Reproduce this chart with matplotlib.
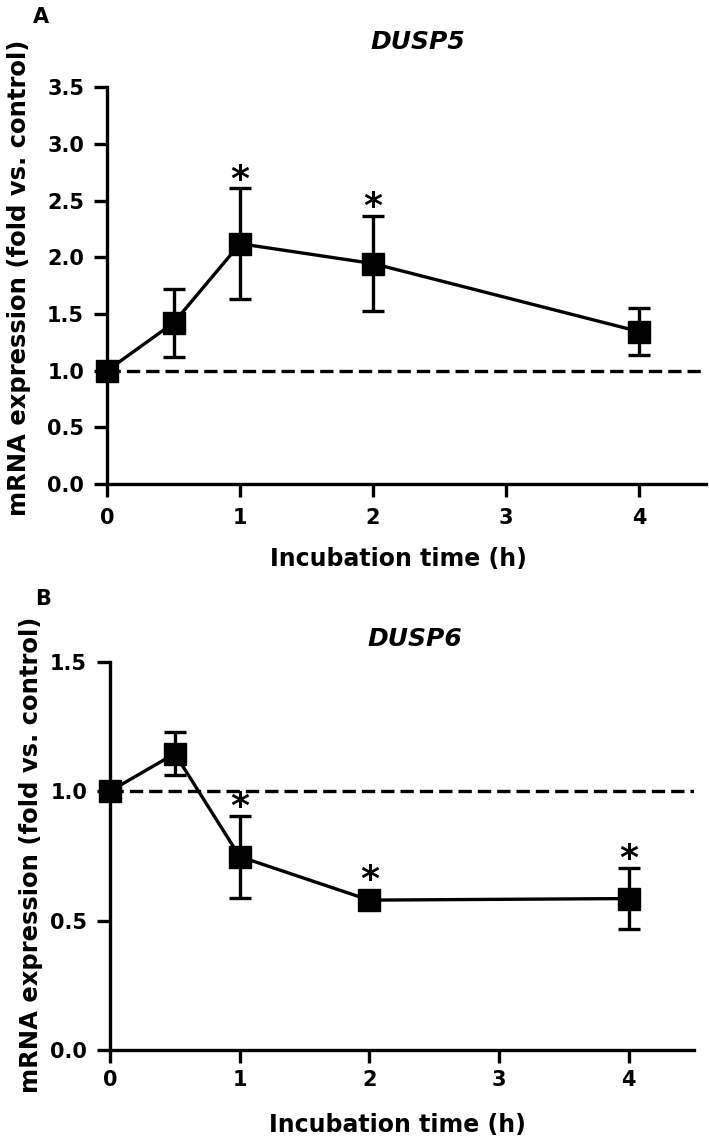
import matplotlib
matplotlib.use("Agg")
import matplotlib.pyplot as plt

plt.rcParams['font.family'] = ['DejaVu Sans']
plt.rcParams['font.weight'] = 'bold'

# Panel A: DUSP5
time_a = [0, 0.5, 1, 2, 4]
mean_a = [1.0, 1.421, 2.12, 1.945, 1.345]
err_a = [0.0, 0.297, 0.49, 0.42, 0.21]
sig_a = [False, False, True, True, False]

# Panel B: DUSP6
time_b = [0, 0.5, 1, 2, 4]
mean_b = [1.0, 1.145, 0.747, 0.579, 0.585]
err_b = [0.0, 0.082, 0.158, 0.02, 0.118]
sig_b = [False, False, True, True, True]

xticks = [0, 1, 2, 3, 4]
yticks_a = [0.0, 0.5, 1.0, 1.5, 2.0, 2.5, 3.0, 3.5]
yticks_b = [0.0, 0.5, 1.0, 1.5]
xlabel = 'Incubation time (h)'
ylabel = 'mRNA expression (fold vs. control)'

W, H = 709, 1145
fig = plt.figure(figsize=(W / 100, H / 100), dpi=100)
axA = fig.add_axes([107 / W, (H - 484) / H, 598.5 / W, 396.7 / H])
axB = fig.add_axes([110 / W, (H - 1050) / H, 583.7 / W, 388.3 / H])

LW = 2.4
MS = 16.0


def draw(ax, t, m, e, sig, yticks, ymax, xpad):
    ax.axhline(1.0, color='black', lw=LW, ls=(0, (4.0, 1.8)), zorder=1)
    ax.errorbar(t, m, yerr=e, color='black', lw=LW, fmt='none', capsize=8.2,
                capthick=LW, elinewidth=LW, zorder=2, clip_on=False)
    ax.plot(t, m, color='black', lw=LW, marker='s', ms=MS, mec='black',
            mfc='black', zorder=3, clip_on=False)
    ax.set_xlim(0, 4.5)
    ax.set_ylim(0, ymax)
    ax.set_xticks(xticks)
    ax.set_yticks(yticks)
    ax.set_yticklabels([f'{v:.1f}' for v in yticks])
    for sp in ['top', 'right']:
        ax.spines[sp].set_visible(False)
    for sp in ['left', 'bottom']:
        ax.spines[sp].set_linewidth(LW)
    ax.tick_params(axis='both', width=LW, length=9.5, labelsize=15)
    ax.tick_params(axis='x', pad=xpad)
    ax.tick_params(axis='y', pad=7)
    for lab in ax.get_xticklabels() + ax.get_yticklabels():
        lab.set_fontweight('bold')
    ax.set_xlabel(xlabel, fontsize=17, fontweight='bold')
    ax.xaxis.label.set_va('baseline')
    # significance stars
    half_px = MS / 2 * fig.dpi / 72
    for ti, mi, ei, s in zip(t, m, e, sig):
        if s:
            top_px = ax.transData.transform((ti, mi + ei))[1]
            mk_px = ax.transData.transform((ti, mi))[1] + half_px
            base_px = max(top_px, mk_px)
            base = ax.transData.inverted().transform((0, base_px))[1]
            ax.annotate('*', xy=(ti, base), xytext=(0, -1),
                        textcoords='offset points', ha='center', va='baseline',
                        fontsize=26, fontweight='bold', annotation_clip=False)


draw(axA, time_a, mean_a, err_a, sig_a, yticks_a, 3.5, 8)
draw(axB, time_b, mean_b, err_b, sig_b, yticks_b, 1.5, 5)

axA.xaxis.set_label_coords((398.5 - 107) / 598.5, (484 - 566) / 396.7)
axB.xaxis.set_label_coords((397.5 - 110) / 583.7, (1050 - 1132) / 388.3)

# y labels
fig.text(19 / W, 1 - 277.5 / H, ylabel, rotation=90, ha='center', va='center',
         fontsize=17.5, fontweight='bold')
fig.text(31 / W, 1 - 855 / H, ylabel, rotation=90, ha='center', va='center',
         fontsize=17.5, fontweight='bold')

# titles
fig.text(418 / W, 1 - 49 / H, 'DUSP5', ha='center', va='baseline',
         fontsize=18, fontweight='bold', style='italic')
fig.text(415 / W, 1 - 646 / H, 'DUSP6', ha='center', va='baseline',
         fontsize=18, fontweight='bold', style='italic')

# panel letters
fig.text(33 / W, 1 - 23 / H, 'A', fontsize=15, fontweight='bold', ha='left', va='baseline')
fig.text(35 / W, 1 - 605 / H, 'B', fontsize=15, fontweight='bold', ha='left', va='baseline')

fig.savefig('out.png', dpi=100)
